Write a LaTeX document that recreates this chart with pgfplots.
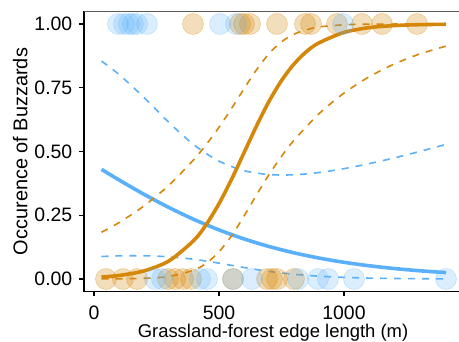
\documentclass[border=0pt]{standalone}
\usepackage{fontspec}
\setmainfont{Liberation Sans}
\usepackage{pgfplots}
\pgfplotsset{compat=1.18}
\definecolor{orn}{RGB}{213,135,10}
\definecolor{blu}{RGB}{90,176,250}
\begin{document}
\begin{tikzpicture}
\begin{axis}[
  at={(0,0)}, anchor=south west,
  scale only axis, width=375bp, height=280.5bp,
  xmin=-40, xmax=1460, ymin=-0.05, ymax=1.05,
  clip=false,
  axis x line*=bottom, axis y line*=left,
  axis line style={line width=1.1bp, black},
  xtick={0,500,1000}, xticklabels={0,500,1000},
  ytick={0,0.25,0.5,0.75,1}, yticklabels={0.00,0.25,0.50,0.75,1.00},
  tick align=outside, major tick length=4.5bp,
  tick style={line width=1.1bp, black},
  /pgf/number format/assume math mode=true,
  xticklabel style={font=\fontsize{19.5}{22}\selectfont, inner sep=0pt, anchor=north, yshift=-9.5bp},
  yticklabel style={font=\fontsize{19.5}{22}\selectfont, inner sep=0pt, anchor=east, xshift=-7bp},
]
% points
\addplot[only marks, mark=*, mark size=10.5bp, mark options={fill=orn, fill opacity=0.28, draw=orn, draw opacity=0.35, line width=0.6bp}] coordinates {
(396,1)(584,1)(600,1)(624,1)(732,1)(844,1)(868,1)(972,1)(1072,1)(1152,1)(1292,1)
(48,0)(116,0)(172,0)(296,0)(324,0)(356,0)(388,0)(556,0)(692,0)(712,0)(732,0)(800,0)
};
\addplot[only marks, mark=*, mark size=10.5bp, mark options={fill=blu, fill opacity=0.22, draw=blu, draw opacity=0.3, line width=0.6bp}] coordinates {
(96,1)(120,1)(140,1)(156,1)(172,1)(212,1)(504,1)(568,1)(996,1)
(244,0)(272,0)(424,0)(452,0)(556,0)(632,0)(816,0)(896,0)(936,0)(1040,0)(1408,0)
};
% blue
\addplot[blu, line width=1.6bp, dash pattern=on 7bp off 7bp, smooth] coordinates {
(30,0.8545)(100,0.8022)(200,0.7117)(300,0.6136)(400,0.5259)(500,0.4622)(600,0.425)(700,0.4096)(800,0.4087)(900,0.4176)(1000,0.4328)(1100,0.4523)(1200,0.4746)(1300,0.4994)(1408,0.528)};
\addplot[blu, line width=1.6bp, dash pattern=on 7bp off 7bp, smooth] coordinates {
(30,0.0883)(100,0.0906)(200,0.0911)(300,0.0871)(400,0.0772)(500,0.0621)(600,0.0450)(700,0.0298)(800,0.0186)(900,0.0110)(1000,0.0064)(1100,0.0036)(1200,0.0020)(1300,0.0011)(1408,0.0006)};
\addplot[blu, line width=3.6bp, smooth] coordinates {
(30,0.430)(100,0.3885)(200,0.3321)(300,0.2802)(400,0.2335)(500,0.1926)(600,0.1573)(700,0.1275)(800,0.1026)(900,0.0822)(1000,0.0655)(1100,0.0520)(1200,0.0412)(1300,0.0325)(1408,0.0251)};
% orange
\addplot[orn, line width=1.6bp, dash pattern=on 7bp off 7bp, smooth] coordinates {
(30,0.1833)(100,0.2211)(200,0.2866)(300,0.368)(400,0.469)(450,0.5287)(500,0.595)(550,0.6686)(600,0.746)(650,0.8205)(700,0.8836)(750,0.93)(800,0.960)(850,0.977)(900,0.9885)(1000,0.9969)(1100,0.9992)(1200,0.9998)(1300,1.0)(1408,1.0)};
\addplot[orn, line width=1.6bp, dash pattern=on 7bp off 7bp, smooth] coordinates {
(30,0.0003)(100,0.0007)(200,0.0027)(300,0.0100)(400,0.0350)(450,0.0627)(500,0.1067)(550,0.1691)(600,0.2466)(650,0.3296)(700,0.4093)(750,0.481)(800,0.544)(900,0.648)(1000,0.729)(1100,0.7926)(1200,0.8426)(1300,0.8814)(1408,0.9132)};
\addplot[orn, line width=3.6bp, smooth] coordinates {
(30,0.0077)(100,0.0138)(200,0.0317)(300,0.0711)(400,0.1519)(450,0.215)(500,0.2953)(550,0.3905)(600,0.495)(650,0.5999)(700,0.6964)(750,0.7781)(800,0.843)(850,0.892)(900,0.926)(1000,0.967)(1100,0.9857)(1200,0.9938)(1300,0.9973)(1408,0.9989)};
\draw[gray!70!black, line width=0.8bp] (rel axis cs:0,1) -- (rel axis cs:1,1);
\end{axis}
\node[rotate=90, anchor=base, font=\fontsize{20}{24}\selectfont] at (-56.5bp,140.25bp) {Occurence of Buzzards};
\node[anchor=base, font=\fontsize{18.5}{22}\selectfont] at (189bp,-46bp) {Grassland-forest edge length (m)};
\pgfresetboundingbox
\useasboundingbox (-84bp,-50.25bp) rectangle (375bp,291.75bp);
\end{tikzpicture}
\end{document}
